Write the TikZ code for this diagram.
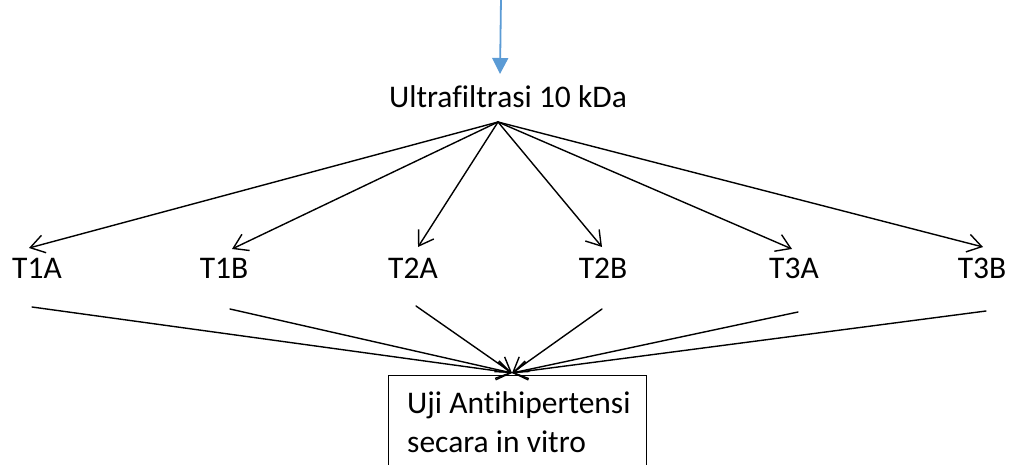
\documentclass[tikz,border=0pt]{standalone}
\usepackage{fontspec}
\setmainfont{Carlito}[Ligatures={NoCommon}]
\usetikzlibrary{arrows.meta}
\definecolor{flowblue}{HTML}{5B9BD5}
\begin{document}
\begin{tikzpicture}[x=1pt,y=-1pt,
  lbl/.style={inner sep=0pt, font=\fontsize{31.5}{39}\selectfont},
  fan/.style={line width=1.4pt, line cap=round, -{Straight Barb[length=14pt,width=18pt,line width=1.4pt]}},
  bluearrow/.style={flowblue, line width=1.8pt, -{Triangle[length=16pt,width=16pt]}}]
\useasboundingbox (0,0) rectangle (1009,465);
% top
\coordinate (start) at (501,-2);
\node[lbl, anchor=base] (uf) at (508,108) {Ultrafiltrasi 10 kDa};
\coordinate (src) at (498,122);
\draw[bluearrow] (start) -- (500,74);
% labels
\node[lbl, anchor=base] (t1a) at (37,278) {T1A};
\node[lbl, anchor=base] (t1b) at (224,278) {T1B};
\node[lbl, anchor=base] (t2a) at (413,278) {T2A};
\node[lbl, anchor=base] (t2b) at (603,278) {T2B};
\node[lbl, anchor=base] (t3a) at (794,278) {T3A};
\node[lbl, anchor=base] (t3b) at (982,278) {T3B};
% arrow tips
\coordinate (a1) at (29,248);
\coordinate (a2) at (232,249);
\coordinate (a3) at (418,247);
\coordinate (a4) at (602,247);
\coordinate (a5) at (792,249);
\coordinate (a6) at (983,247);
\foreach \t in {a1,a2,a3,a4,a5,a6} \draw[fan] (src) -- (\t);
% bottom starts
\coordinate (b1) at (32,307);
\coordinate (b2) at (230,309);
\coordinate (b3) at (416,306);
\coordinate (b4) at (602,309);
\coordinate (b5) at (798,312);
\coordinate (b6) at (986,311);
\coordinate (sink) at (512,373);
% box
\node[draw, line width=1pt, minimum width=258pt, minimum height=140pt, anchor=north west, inner sep=0pt] (box) at (388,375) {};
\node[lbl, anchor=base west] (bt1) at (407,413) {Uji Antihipertensi};
\node[lbl, anchor=base west] (bt2) at (407,452) {secara in vitro};
\foreach \t in {b1,b2,b3,b4,b5,b6} \draw[fan] (\t) -- (sink);
\end{tikzpicture}
\end{document}
